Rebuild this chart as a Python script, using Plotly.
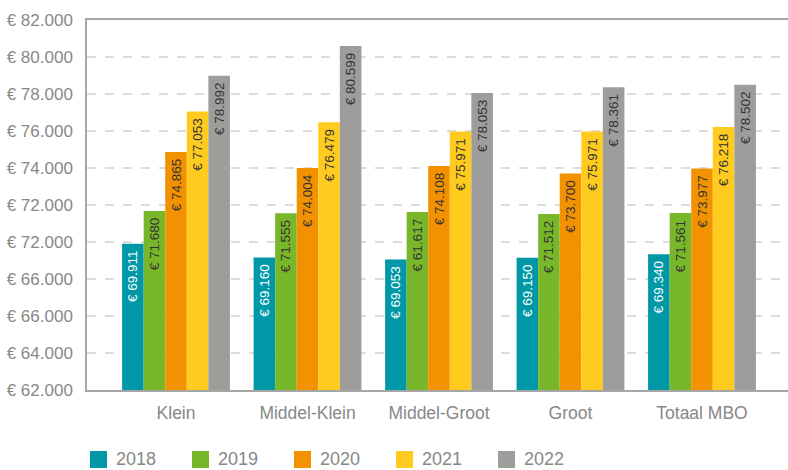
import plotly.graph_objects as go

categories = ["Klein", "Middel-Klein", "Middel-Groot", "Groot", "Totaal MBO"]
years = ["2018", "2019", "2020", "2021", "2022"]
values = {
    "2018": [69911, 69160, 69053, 69150, 69340],
    "2019": [71680, 71555, 71617, 71512, 71561],
    "2020": [74865, 74004, 74108, 73700, 73977],
    "2021": [77053, 76479, 75971, 75971, 76218],
    "2022": [78992, 80599, 78053, 78361, 78502],
}
# labels as printed in the original (including its typo)
labels = {
    "2018": ["€ 69.911", "€ 69.160", "€ 69.053", "€ 69.150", "€ 69.340"],
    "2019": ["€ 71.680", "€ 71.555", "€ 61.617", "€ 71.512", "€ 71.561"],
    "2020": ["€ 74.865", "€ 74.004", "€ 74.108", "€ 73.700", "€ 73.977"],
    "2021": ["€ 77.053", "€ 76.479", "€ 75.971", "€ 75.971", "€ 76.218"],
    "2022": ["€ 78.992", "€ 80.599", "€ 78.053", "€ 78.361", "€ 78.502"],
}
tick_vals = [62000, 64000, 66000, 68000, 70000, 72000, 74000, 76000, 78000, 80000, 82000]
tick_text = ["€ 62.000", "€ 64.000", "€ 66.000", "€ 66.000", "€ 72.000", "€ 72.000",
             "€ 74.000", "€ 76.000", "€ 78.000", "€ 80.000", "€ 82.000"]

colors = ["#0097a7", "#78b72a", "#f39200", "#ffcb1f", "#9d9d9c"]
text_colors = ["#ffffff", "#333333", "#333333", "#333333", "#333333"]

FONT = "Liberation Sans, Arial, sans-serif"
W, H = 788, 470
ML, MR, MT, MB = 87, 0, 20, 80
PW, PH = W - ML - MR, H - MT - MB

fig = go.Figure()
for i, y in enumerate(years):
    fig.add_trace(go.Bar(
        x=list(range(len(categories))), y=values[y], name=y,
        marker=dict(color=colors[i], line=dict(width=0)),
        text=[t + "\u00a0" for t in labels[y]], textposition="inside",
        insidetextanchor="end", textangle=-90, constraintext="none",
        insidetextfont=dict(color=text_colors[i], size=13.5, family=FONT),
        showlegend=False, hoverinfo="skip",
    ))

# manual legend
for i, y in enumerate(years):
    px = 90 + i * 102
    fig.add_shape(type="rect", xref="paper", yref="paper",
                  x0=(px - ML) / PW, x1=(px + 17 - ML) / PW,
                  y0=(MT + PH - 451) / PH, y1=(MT + PH - 468) / PH,
                  fillcolor=colors[i], line=dict(width=0))
    fig.add_annotation(xref="paper", yref="paper",
                       x=(px + 24 - ML) / PW, y=(MT + PH - 459) / PH,
                       xanchor="left", yanchor="middle", showarrow=False,
                       text=y, font=dict(size=18, color="#888888", family=FONT))

fig.update_layout(
    width=W, height=H,
    margin=dict(l=ML, r=MR, t=MT, b=MB),
    paper_bgcolor="white", plot_bgcolor="white",
    barmode="group", bargap=0.18, bargroupgap=0,
    font=dict(family=FONT, color="#888888"),
)
fig.update_xaxes(
    range=[-0.677, 4.654],
    tickvals=list(range(len(categories))), ticktext=categories,
    tickfont=dict(size=17.5, color="#888888", family=FONT),
    showline=True, linecolor="#a6a6a6", linewidth=1.5, mirror=True,
    showgrid=False, zeroline=False, ticks="", ticklabelstandoff=6,
)
fig.update_yaxes(
    range=[62000, 82000], tickvals=tick_vals, ticktext=tick_text,
    tickfont=dict(size=17, color="#888888", family=FONT),
    showline=True, linecolor="#a6a6a6", linewidth=1.5,
    showgrid=True, gridcolor="#dcdcdc", gridwidth=1.5, griddash="dash",
    zeroline=False, ticks="", ticklabelstandoff=9,
)

fig.write_html("out.html")
